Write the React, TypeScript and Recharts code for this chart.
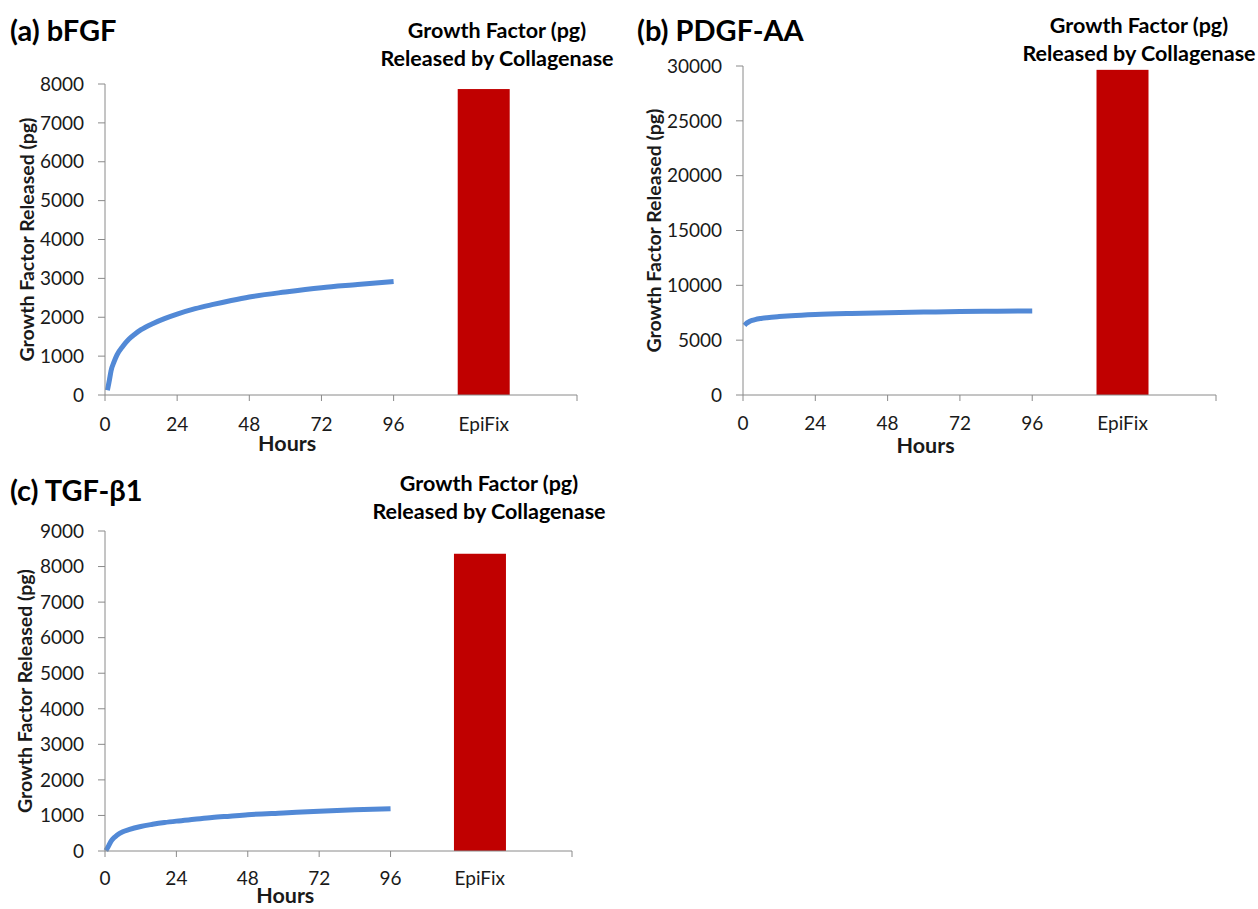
import React from 'react';
import { ComposedChart, XAxis, YAxis, Line, Bar, Label } from 'recharts';

// x positions (hours) of the EpiFix category and the end of the axis
const EPIFIX_AT = 126;
const X_END = 157;
const X_TICKS = [0, 24, 48, 72, 96, EPIFIX_AT, X_END];

// (a) bFGF
const HOURS_BFGF = [0.8, 1.5, 2, 3, 4, 6, 8, 10, 12, 16, 20, 24, 30, 36, 42, 48, 60, 72, 84, 96];
const BFGF = [120, 400, 620, 850, 1030, 1260, 1440, 1570, 1680, 1840, 1970, 2080, 2220, 2330, 2430, 2520, 2650, 2760, 2840, 2920];
const BFGF_EPIFIX = 7870;
const BFGF_TICKS = [0, 1000, 2000, 3000, 4000, 5000, 6000, 7000, 8000];

// (b) PDGF-AA
const HOURS_PDGF = [0.5, 1, 2, 3, 4, 6, 8, 12, 16, 24, 36, 48, 60, 72, 84, 96];
const PDGF = [6350, 6500, 6680, 6800, 6880, 6980, 7050, 7150, 7230, 7340, 7440, 7510, 7560, 7610, 7640, 7670];
const PDGF_EPIFIX = 29650;
const PDGF_TICKS = [0, 5000, 10000, 15000, 20000, 25000, 30000];

// (c) TGF-β1
const HOURS_TGF = [0.3, 1, 2, 3, 4, 6, 8, 12, 16, 20, 24, 30, 36, 42, 48, 60, 72, 84, 96];
const TGF = [10, 110, 270, 370, 440, 540, 600, 690, 750, 800, 840, 890, 940, 980, 1020, 1070, 1120, 1160, 1190];
const TGF_EPIFIX = 8360;
const TGF_TICKS = [0, 1000, 2000, 3000, 4000, 5000, 6000, 7000, 8000, 9000];

const INK = '#1a1a1a';
const AXIS_GRAY = '#8a8a8a';
const LINE_BLUE = '#5289d6';
const BAR_RED = '#c00000';
const FONT = 'Lato, "Open Sans", sans-serif';
const BAR_W = 52;

function HourTick(props: any) {
  const { x, y, payload, labelDy = 28 } = props;
  const v = payload?.value;
  const text = v === EPIFIX_AT ? 'EpiFix' : v === X_END ? '' : String(v);
  return (
    <g>
      {v !== EPIFIX_AT ? <line x1={x} x2={x} y1={y} y2={y + 6} stroke={AXIS_GRAY} strokeWidth={1} /> : null}
      {text ? (
        <text x={x} y={y + labelDy} textAnchor="middle" dominantBaseline="central" fontSize={19} fill={INK}>
          {text}
        </text>
      ) : null}
    </g>
  );
}

// numeric x axis gives the bar a very thin band, so widen it around its centre
function EpiFixBar(props: any) {
  const { x, y, width, height, fill } = props;
  if (!height) return null;
  const cx = x + width / 2;
  return <rect x={cx - BAR_W / 2} y={y} width={BAR_W} height={height} fill={fill} />;
}

type PanelProps = {
  left: number;
  top: number;
  width: number;
  height: number;
  margin: { top: number; right: number; bottom: number; left: number };
  yAxisWidth: number;
  hours: number[];
  values: number[];
  epifix: number;
  yTicks: number[];
  title: string;
  titleLeft: number;
  titleTop: number;
  noteX: number;
  noteY: number;
  yLabelX: number;
  tickDy: number;
  hoursDy: number;
};

function Panel(p: PanelProps) {
  const rows: any[] = p.hours.map((h, i) => ({ h, released: p.values[i] }));
  rows.push({ h: EPIFIX_AT, collagenase: p.epifix });
  const yMax = p.yTicks[p.yTicks.length - 1];

  return (
    <div style={{ position: 'absolute', left: p.left, top: p.top, width: p.width, height: p.height }}>
      <div
        style={{
          position: 'absolute',
          left: p.titleLeft,
          top: p.titleTop,
          fontSize: 29,
          fontWeight: 700,
          lineHeight: '32px',
          whiteSpace: 'nowrap',
          color: '#000',
        }}
      >
        {p.title}
      </div>
      <div
        style={{
          position: 'absolute',
          left: p.noteX - 160,
          top: p.noteY - 28,
          width: 320,
          textAlign: 'center',
          fontSize: 21.5,
          fontWeight: 700,
          lineHeight: '28px',
          color: '#000',
        }}
      >
        Growth Factor (pg)
        <br />
        Released by Collagenase
      </div>
      <ComposedChart width={p.width} height={p.height} data={rows} margin={p.margin}>
        <XAxis
          dataKey="h"
          type="number"
          domain={[0, X_END]}
          ticks={X_TICKS}
          interval={0}
          tick={<HourTick labelDy={p.tickDy} />}
          tickLine={false}
          tickSize={0}
          tickMargin={0}
          height={60}
          axisLine={{ stroke: AXIS_GRAY, strokeWidth: 1 }}
        >
          <Label
            content={(lp: any) => {
              const vb = lp.viewBox;
              return (
                <text
                  x={vb.x + vb.width * 0.386}
                  y={vb.y + p.hoursDy}
                  textAnchor="middle"
                  dominantBaseline="central"
                  fontSize={21.5}
                  fontWeight={700}
                  fill={INK}
                >
                  Hours
                </text>
              );
            }}
          />
        </XAxis>
        <YAxis
          type="number"
          domain={[0, yMax]}
          ticks={p.yTicks}
          interval={0}
          width={p.yAxisWidth}
          tickSize={7}
          tickMargin={14}
          tick={{ fontSize: 19, fill: INK }}
          tickLine={{ stroke: AXIS_GRAY }}
          axisLine={{ stroke: AXIS_GRAY, strokeWidth: 1 }}
        >
          <Label
            content={(lp: any) => {
              const vb = lp.viewBox;
              const cy = vb.y + vb.height / 2;
              return (
                <text
                  x={p.yLabelX}
                  y={cy}
                  transform={`rotate(-90 ${p.yLabelX} ${cy})`}
                  textAnchor="middle"
                  dominantBaseline="central"
                  fontSize={19.5}
                  fontWeight={700}
                  fill={INK}
                >
                  Growth Factor Released (pg)
                </text>
              );
            }}
          />
        </YAxis>
        <Bar dataKey="collagenase" fill={BAR_RED} shape={<EpiFixBar />} isAnimationActive={false} />
        <Line
          type="monotone"
          dataKey="released"
          stroke={LINE_BLUE}
          strokeWidth={5}
          dot={false}
          activeDot={false}
          isAnimationActive={false}
        />
      </ComposedChart>
    </div>
  );
}

export default function App() {
  return (
    <div
      style={{
        position: 'absolute',
        left: 0,
        top: 0,
        width: 1258,
        height: 909,
        background: '#fff',
        overflow: 'hidden',
        fontFamily: FONT,
      }}
    >
      <Panel
        left={0}
        top={0}
        width={620}
        height={460}
        margin={{ top: 84, right: 43, bottom: 5, left: 0 }}
        yAxisWidth={105}
        hours={HOURS_BFGF}
        values={BFGF}
        epifix={BFGF_EPIFIX}
        yTicks={BFGF_TICKS}
        title="(a) bFGF"
        titleLeft={10}
        titleTop={14}
        noteX={497}
        noteY={44}
        yLabelX={26}
        tickDy={28}
        hoursDy={48}
      />
      <Panel
        left={620}
        top={0}
        width={638}
        height={460}
        margin={{ top: 66, right: 42, bottom: 5, left: 0 }}
        yAxisWidth={123}
        hours={HOURS_PDGF}
        values={PDGF}
        epifix={PDGF_EPIFIX}
        yTicks={PDGF_TICKS}
        title="(b) PDGF-AA"
        titleLeft={17}
        titleTop={14}
        noteX={519}
        noteY={39}
        yLabelX={33}
        tickDy={27}
        hoursDy={50}
      />
      <Panel
        left={0}
        top={460}
        width={620}
        height={449}
        margin={{ top: 71, right: 48, bottom: -2, left: 0 }}
        yAxisWidth={105}
        hours={HOURS_TGF}
        values={TGF}
        epifix={TGF_EPIFIX}
        yTicks={TGF_TICKS}
        title="(c) TGF-β1"
        titleLeft={10}
        titleTop={14}
        noteX={489}
        noteY={37}
        yLabelX={24}
        tickDy={26}
        hoursDy={44}
      />
    </div>
  );
}
